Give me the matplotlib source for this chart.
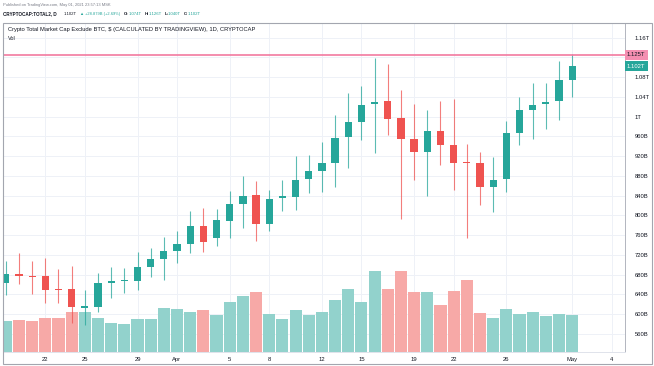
import numpy as np
import pandas as pd
import matplotlib
matplotlib.use('Agg')
import matplotlib.pyplot as plt
import matplotlib.dates as mdates
from matplotlib.patches import Rectangle

# daily candles, values in billions of USD
dates = pd.date_range('2021-03-19', '2021-05-01', freq='D')
opens = [664, 681, 678, 677, 651, 650, 613, 615, 663, 667, 668, 696, 711, 728, 742,
         779, 754, 789, 823, 841, 783, 836, 838, 873, 889, 907, 959, 989, 1025, 1031,
         998, 954, 928, 970, 943, 908, 907, 858, 873, 967, 1013, 1025, 1031, 1074]
highs = [708, 724, 708, 713, 691, 698, 649, 684, 696, 693, 725, 733, 756, 769, 808,
         814, 812, 850, 880, 870, 851, 872, 921, 922, 949, 1003, 1047, 1062, 1118, 1106,
         1054, 1025, 1013, 1031, 1035, 944, 929, 919, 992, 1040, 1067, 1067, 1113, 1126]
lows = [639, 662, 640, 622, 622, 582, 578, 605, 632, 642, 649, 676, 669, 703, 723,
        726, 737, 754, 775, 748, 769, 808, 811, 845, 848, 857, 895, 953, 927, 963,
        792, 872, 840, 901, 851, 755, 821, 806, 848, 942, 954, 974, 994, 1040]
closes = [681, 677, 676, 649, 648, 614, 617, 664, 667, 669, 696, 711, 727, 742, 779,
          747, 791, 822, 840, 783, 834, 839, 872, 889, 905, 957, 988, 1023, 1030, 996,
          955, 928, 970, 943, 907, 905, 857, 872, 966, 1013, 1023, 1029, 1073, 1102]
volumes = [77, 79, 77, 85, 83, 100, 100, 83, 71, 68, 82, 82, 108, 106, 100,
           104, 92, 123, 138, 148, 93, 81, 104, 92, 98, 129, 157, 123, 202, 157,
           202, 148, 150, 117, 152, 178, 96, 85, 106, 94, 98, 88, 94, 92]

tick_dates = pd.to_datetime(['2021-03-22', '2021-03-25', '2021-03-29', '2021-04-01',
                             '2021-04-05', '2021-04-08', '2021-04-12', '2021-04-15',
                             '2021-04-19', '2021-04-22', '2021-04-26', '2021-05-01',
                             '2021-05-04'])
tick_labels = ['22', '25', '29', 'Apr', '5', '8', '12', '15', '19', '22', '26', 'May', '4']
price_ticks = [560, 600, 640, 680, 720, 760, 800, 840, 880, 920, 960, 1000, 1040, 1080, 1120, 1160]
price_labels = ['560B', '600B', '640B', '680B', '720B', '760B', '800B', '840B', '880B',
                '920B', '960B', '1T', '1.04T', '1.08T', '', '1.16T']
alert_level = 1125
last_close = closes[-1]

UP = '#26a69a'
DOWN = '#ef5350'
UP_VOL = '#92d2cc'
DOWN_VOL = '#f7a9a7'
GRID = '#eef1f7'
TXT = '#131722'
GREY = '#787b86'

plt.rcParams['font.family'] = ['Liberation Sans', 'DejaVu Sans']

W, H = 654, 366
fig = plt.figure(figsize=(W / 100, H / 100), dpi=100)


def rect(x0, y0, x1, y1):
    return [x0 / W, 1 - y1 / H, (x1 - x0) / W, (y1 - y0) / H]


xlim = (pd.Timestamp('2021-03-18 19:48'), pd.Timestamp('2021-05-05 00:15'))
ylim = (524, 1190)

# base axes: grid + price scale (twins first, twinx resets tick side)
ax = fig.add_axes(rect(3.5, 22.7, 625, 351.7))
ax_vol = ax.twinx()
ax_c = ax.twinx()

ax.set_xlim(xlim)
ax.set_ylim(ylim)
ax.set_xticks(tick_dates)
ax.set_xticklabels(tick_labels)
ax.set_yticks(price_ticks)
ax.set_yticklabels(price_labels)
ax.yaxis.tick_right()
ax.tick_params(axis='both', length=0, labelsize=4.2, colors=TXT)
ax.tick_params(axis='y', pad=7)
ax.tick_params(axis='x', pad=4)
ax.grid(True, color=GRID, lw=0.7)
for s in ['top', 'left']:
    ax.spines[s].set_visible(False)
ax.spines['right'].set_color('#b2b5be')
ax.spines['right'].set_linewidth(0.7)
ax.spines['bottom'].set_color('#e0e3eb')
ax.spines['bottom'].set_linewidth(0.7)

# volume
ax_vol.set_ylim(0, 820)
ax_vol.axis('off')
up = np.array(closes) >= np.array(opens)
ax_vol.bar(dates, volumes, width=0.92, color=np.where(up, UP_VOL, DOWN_VOL), linewidth=0)

# candles
ax_c.set_ylim(ylim)
ax_c.set_xlim(xlim)
ax_c.axis('off')
cols = np.where(up, UP, DOWN)
ax_c.vlines(dates, lows, highs, colors=cols, lw=0.8, alpha=0.75)
body_lo = np.minimum(opens, closes)
body_h = np.maximum(np.abs(np.array(closes) - np.array(opens)), 1.5)
ax_c.bar(dates, body_h, bottom=body_lo, width=0.55, color=cols, linewidth=0)
ax_c.axhline(alert_level, color='#f27aa0', lw=1.2)

tr = ax.get_yaxis_transform()
ax.text(1.003, alert_level, '{:.3f}T'.format(alert_level / 1000), transform=tr, fontsize=4.2,
        color=TXT, va='center', ha='left',
        bbox=dict(boxstyle='square,pad=0.4', fc='#f48fb1', ec='none'))
ax.text(1.003, last_close, '{:.3f}T'.format(last_close / 1000), transform=tr, fontsize=4.2,
        color='white', va='center', ha='left',
        bbox=dict(boxstyle='square,pad=0.4', fc=UP, ec='none'))

# frame
fig.patches.append(Rectangle((3 / W, 1 - 364 / H), 649 / W, (364 - 22.7) / H,
                             transform=fig.transFigure, fill=False, ec='#a3a6af', lw=0.8))

# header
fig.text(3 / W, 1 - 5 / H, 'Published on TradingView.com, May 01, 2021 23:57:13 MSK',
         fontsize=2.9, color=GREY, va='center')
pieces = [(3, 'CRYPTOCAP:TOTAL2, D', TXT, 'bold', 3.3), (64, '1.102T', TXT, 'normal', 3.1),
          (79.5, '\u25b2', UP, 'normal', 3.0), (85, '+28.879B (+2.69%)', UP, 'normal', 2.9),
          (124, 'O:', TXT, 'bold', 3.1), (129, '1.074T', UP, 'normal', 3.1),
          (144.5, 'H:', TXT, 'bold', 3.1), (149, '1.126T', UP, 'normal', 3.1),
          (164.5, 'L:', TXT, 'bold', 3.1), (168, '1.040T', UP, 'normal', 3.1),
          (183.5, 'C:', TXT, 'bold', 3.1), (188, '1.102T', UP, 'normal', 3.1)]
for x, s, c, w, fs in pieces:
    fig.text(x / W, 1 - 14 / H, s, fontsize=fs, color=c, weight=w, va='center',
             family=['Liberation Sans', 'DejaVu Sans'])
fig.text(8 / W, 1 - 30 / H,
         'Crypto Total Market Cap Exclude BTC, $ (CALCULATED BY TRADINGVIEW), 1D, CRYPTOCAP',
         fontsize=4.15, color=TXT, va='center')
fig.text(8 / W, 1 - 38 / H, 'Vol', fontsize=4, color=TXT, va='center')

fig.savefig('out.png', dpi=100)
